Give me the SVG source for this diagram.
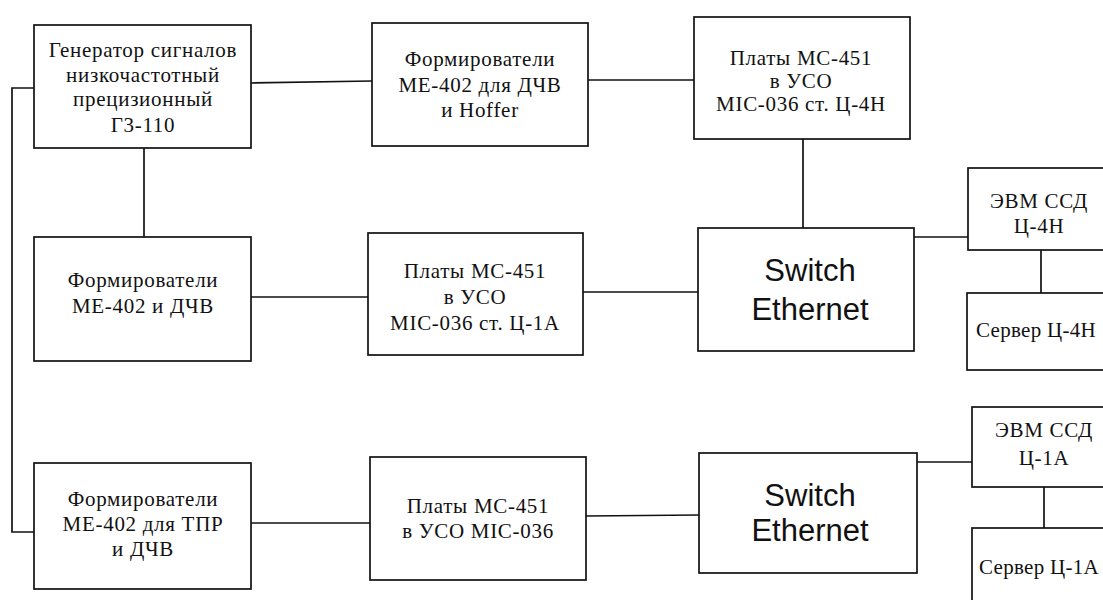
<svg xmlns="http://www.w3.org/2000/svg" width="1103" height="600" viewBox="0 0 1103 600">
<style>
rect{fill:#fff;stroke:#111;stroke-width:1.7}
.c line,.c path{stroke:#111;stroke-width:1.7;fill:none}
text{font-family:"Liberation Serif","Times New Roman",serif;font-size:21px;fill:#111;text-anchor:middle;letter-spacing:0.7px}
text.s{font-family:"Liberation Sans",Arial,sans-serif;font-size:31px;letter-spacing:0}
text.r{letter-spacing:0.3px}
</style>
<rect width="1103" height="600" style="fill:#fff;stroke:none"/>
<g class="c" id="connectors">
<path d="M34,88 H12 V532 H34"/>
<line x1="144" y1="148" x2="144" y2="237"/>
<line x1="251" y1="83" x2="372" y2="81"/>
<line x1="588" y1="80" x2="694" y2="80"/>
<line x1="803" y1="139" x2="803" y2="228"/>
<line x1="914" y1="237" x2="968" y2="237"/>
<line x1="1041" y1="250" x2="1041" y2="293"/>
<line x1="251" y1="297" x2="368" y2="297"/>
<line x1="583" y1="292" x2="698" y2="292"/>
<line x1="251" y1="523" x2="370" y2="523"/>
<line x1="586" y1="516" x2="699" y2="515"/>
<line x1="917" y1="462" x2="972" y2="462"/>
<line x1="1044" y1="487" x2="1044" y2="528"/>
</g>
<g id="gen">
<rect x="34" y="25" width="217" height="123"/>
<text x="143" y="57">Генератор сигналов</text>
<text x="143" y="82">низкочастотный</text>
<text x="143" y="106">прецизионный</text>
<text x="143" y="132">Г3-110</text>
</g>
<g id="form1">
<rect x="372" y="23" width="216" height="123"/>
<text x="480" y="66">Формирователи</text>
<text x="480" y="92">МЕ-402 для ДЧВ</text>
<text x="480" y="117">и Hoffer</text>
</g>
<g id="board1">
<rect x="694" y="17" width="216" height="122"/>
<text x="801" y="65">Платы МС-451</text>
<text x="801" y="88">в УСО</text>
<text x="801" y="111">МIС-036 ст. Ц-4Н</text>
</g>
<g id="form2">
<rect x="34" y="237" width="217" height="124"/>
<text x="143" y="287">Формирователи</text>
<text x="143" y="313">МЕ-402 и ДЧВ</text>
</g>
<g id="board2">
<rect x="368" y="233" width="215" height="122"/>
<text x="475" y="278">Платы МС-451</text>
<text x="475" y="304">в УСО</text>
<text x="475" y="330">МIС-036 ст. Ц-1А</text>
</g>
<g id="switch1">
<rect x="698" y="228" width="216" height="123"/>
<text class="s" x="810" y="281">Switch</text>
<text class="s" x="810" y="320">Ethernet</text>
</g>
<g id="evm1">
<rect x="968" y="168" width="145" height="82"/>
<text x="1039" y="208">ЭВМ ССД</text>
<text x="1039" y="233">Ц-4Н</text>
</g>
<g id="server1">
<rect x="967" y="293" width="146" height="77"/>
<text class="r" x="1036" y="337">Сервер Ц-4Н</text>
</g>
<g id="form3">
<rect x="34" y="463" width="217" height="126"/>
<text x="143" y="506">Формирователи</text>
<text x="143" y="531">МЕ-402 для ТПР</text>
<text x="143" y="556">и ДЧВ</text>
</g>
<g id="board3">
<rect x="370" y="457" width="216" height="123"/>
<text x="478" y="513">Платы МС-451</text>
<text x="478" y="538">в УСО МIС-036</text>
</g>
<g id="switch2">
<rect x="699" y="453" width="218" height="120"/>
<text class="s" x="810" y="506">Switch</text>
<text class="s" x="810" y="541">Ethernet</text>
</g>
<g id="evm2">
<rect x="972" y="407" width="141" height="80"/>
<text x="1044" y="437">ЭВМ ССД</text>
<text x="1044" y="465">Ц-1А</text>
</g>
<g id="server2">
<rect x="972" y="528" width="141" height="80"/>
<text class="r" x="1039" y="574">Сервер Ц-1А</text>
</g>
</svg>
